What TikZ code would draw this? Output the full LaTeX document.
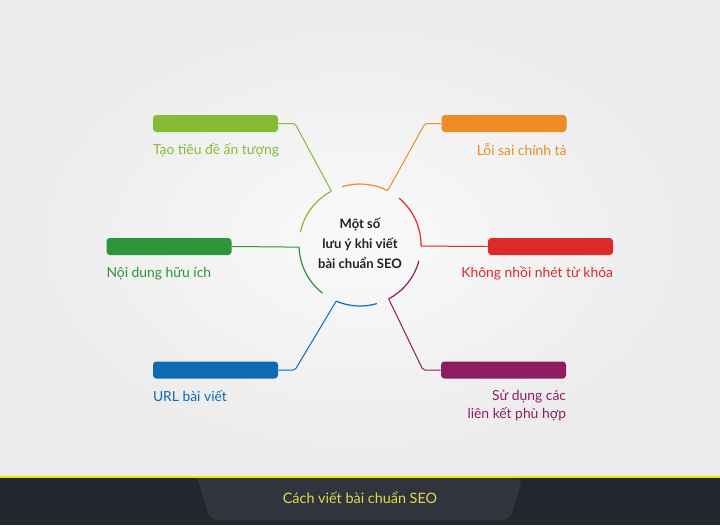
\documentclass[tikz,border=0pt]{standalone}
\usepackage{fontspec}
\setmainfont{Lato}
\usepackage{xcolor}
\usepackage{tikz}
\usetikzlibrary{positioning}
\definecolor{cLime}{RGB}{134,188,52}
\definecolor{cOrange}{RGB}{238,140,38}
\definecolor{cRed}{RGB}{220,42,40}
\definecolor{cPurple}{RGB}{140,30,96}
\definecolor{cBlue}{RGB}{14,106,180}
\definecolor{cGreen}{RGB}{44,150,56}
\definecolor{cInk}{RGB}{34,34,34}
\definecolor{cFoot}{RGB}{35,38,45}
\definecolor{cTab}{RGB}{48,52,60}
\definecolor{cGold}{RGB}{233,216,74}

\begin{document}
\begin{tikzpicture}[x=0.75pt,y=0.75pt,yscale=-1,xscale=1,
  bar/.style={rectangle, rounded corners=2.5pt, minimum width=93.75pt, minimum height=12.75pt, inner sep=0pt},
  lbl/.style={inner sep=0pt, font=\fontsize{10.4}{13}\selectfont},
  link/.style={line width=0.75pt, rounded corners=1.5pt},
  ring/.style={line width=0.9pt}]
\useasboundingbox (0,0) rectangle (720,525);

%Shape: Background
\shade [inner color=white!98!black, outer color=white!92!black] (0,0) rectangle (720,477);
%Shape: Footer
\fill [cFoot] (0,477) rectangle (720,525);
\fill [cTab, rounded corners=6pt] (197,477) -- (210,520) -- (510,520) -- (523,477) [sharp corners] -- cycle;
\draw [line width=1.2pt, draw={rgb, 255:red, 242; green, 226; blue, 0}] (0,477) -- (720,477);

% Text Node
\draw (360,243) node [align=center, inner sep=0pt, text=cInk, font=\fontsize{9.8}{15}\selectfont\bfseries] (core) {Một số\\lưu ý khi viết\\bài chuẩn SEO};

%Shape: Rectangle
\draw (215.5,123.5) node [bar, fill=cLime] (b1) {};
\draw (504,123.5) node [bar, fill=cOrange] (b2) {};
\draw (550.5,246.5) node [bar, fill=cRed] (b3) {};
\draw (503.5,370) node [bar, fill=cPurple] (b4) {};
\draw (215.5,370) node [bar, fill=cBlue] (b5) {};
\draw (169,246.5) node [bar, fill=cGreen] (b6) {};

% Junctions on the ring
\coordinate (j1) at (331.36,191.14);
\coordinate (j2) at (387.69,190.65);
\coordinate (j3) at (420.99,246.06);
\coordinate (j4) at (388.64,298.86);
\coordinate (j5) at (336.17,301.15);
\coordinate (j6) at (299.04,247.13);
\coordinate (k1) at (295,123.5);
\coordinate (k2) at (425,123.5);
\coordinate (k4) at (423,370);
\coordinate (k5) at (295,370);

%Shape: Arc
\draw [ring, cLime] (j1) arc [start angle=-118, end angle=-168, radius=61];
\draw [ring, cOrange] (j2) arc [start angle=-63, end angle=-107, radius=61];
\draw [ring, cRed] (j3) arc [start angle=1, end angle=-50, radius=61];
\draw [ring, cPurple] (j4) arc [start angle=62, end angle=15, radius=61];
\draw [ring, cBlue] (j5) arc [start angle=113, end angle=74, radius=61];
\draw [ring, cGreen] (j6) arc [start angle=178, end angle=128, radius=61];

%Straight Lines
\draw [link, cLime] (b1.east) -- (k1) -- (j1);
\draw [link, cOrange] (b2.west) -- (k2) -- (j2);
\draw [link, cRed] (b3.west) -- (j3);
\draw [link, cPurple] (b4.west) -- (k4) -- (j4);
\draw [link, cBlue] (b5.east) -- (k5) -- (j5);
\draw [link, cGreen] (b6.east) -- (j6);

% Text Node
\node [lbl, text=cLime, below right=8.5pt and 0pt of b1.south west] (t1) {Tạo tiêu đề ấn tượng};
% Text Node
\node [lbl, text=cOrange, below left=8.5pt and 0pt of b2.south east] (t2) {Lỗi sai chính tả};
% Text Node
\node [lbl, text=cRed, below left=8.5pt and 0pt of b3.south east] (t3) {Không nhồi nhét từ khóa};
% Text Node
\node [lbl, text=cPurple, align=right, below left=8.5pt and 0pt of b4.south east] (t4) {Sử dụng các\\liên kết phù hợp};
% Text Node
\node [lbl, text=cBlue, below right=8.5pt and 0pt of b5.south west] (t5) {URL bài viết};
% Text Node
\node [lbl, text=cGreen, below right=8.5pt and 0pt of b6.south west] (t6) {Nội dung hữu ích};
% Text Node
\draw (360,498) node [lbl, text=cGold, font=\fontsize{10.8}{12}\selectfont] (foot) {Cách viết bài chuẩn SEO};

\end{tikzpicture}
\end{document}
